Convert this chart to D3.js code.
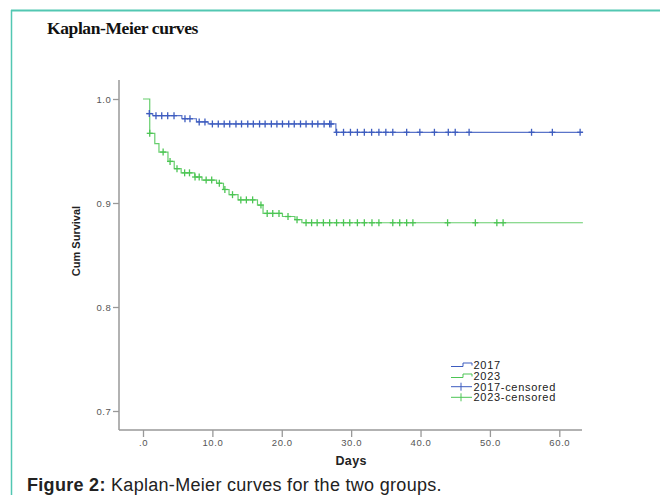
<!DOCTYPE html>
<html><head><meta charset="utf-8">
<script src="https://cdn.jsdelivr.net/npm/d3@7"></script>
<style>body{margin:0;background:#fff}svg{display:block}</style>
</head><body>
<svg id="c" width="660" height="495"></svg>
<script>
// ---- data ----
const seriesNames = ["2017", "2023"];
const legendLabels = ["2017", "2023", "2017-censored", "2023-censored"];
// step points (day, cumulative survival)
const days2017 = [0.5, 1.4, 5.6, 7.7, 9.4, 27.8, 63.4];
const surv2017 = [0.986, 0.984, 0.981, 0.978, 0.976, 0.968, 0.968];
const days2023 = [0, 0.97, 1.7, 2.3, 3.6, 4.5, 5.5, 7.45, 8.5, 10.6, 11.6, 12.4, 13.7, 16.5, 17.3, 20.1, 21.9, 22.9, 63.4];
const surv2023 = [1.0, 0.967, 0.957, 0.949, 0.940, 0.933, 0.929, 0.925, 0.922, 0.919, 0.913, 0.908, 0.903, 0.898, 0.890, 0.887, 0.884, 0.881, 0.881];
// censored times
const cens2017 = [0.91, 1.87, 2.7, 3.56, 4.47, 6.05, 6.77, 8.1, 8.93,
  10.0, 10.85, 11.7, 12.5, 13.4, 14.2, 15.1, 15.9, 16.8, 17.6, 18.5, 19.3, 20.1, 21.0, 21.8, 22.7, 23.5, 24.4, 25.2, 26.1, 26.9, 27.1,
  27.9, 28.9, 29.9, 30.9, 31.9, 32.95, 34.0, 35.0, 36.0, 38.0, 39.9, 42.0, 44.0, 45.0, 47.0, 56.0, 59.0, 63.0];
const cens2023 = [0.97, 2.9, 3.9, 4.9, 6.0, 6.7, 7.5, 8.1, 9.1, 9.9, 11.0, 11.8, 12.9, 14.1, 14.9, 15.8, 17.0, 17.9, 18.7, 19.6, 20.9, 22.2,
  23.5, 24.3, 25.1, 26.0, 26.9, 27.9, 28.9, 29.8, 30.9, 31.9, 33.0, 34.0, 36.0, 37.0, 38.0, 38.9, 43.9, 47.9, 51.0, 51.9];
const xTicks = [0, 10, 20, 30, 40, 50, 60];
const xTickLabels = [".0", "10.0", "20.0", "30.0", "40.0", "50.0", "60.0"];
const yTicks = [0.7, 0.8, 0.9, 1.0];
const yTickLabels = ["0.7", "0.8", "0.9", "1.0"];
const colors = {"2017": "#3d5cbf", "2023": "#4cc554"};

// ---- chart ----
const svg = d3.select("#c");
const x = d3.scaleLinear().domain([0, 60]).range([143, 559.3]);
const y = d3.scaleLinear().domain([0.7, 1.0]).range([411, 99]);
const xMin = x.invert(119), xMax = x.invert(582);
const yMin = y.invert(430), yMax = y.invert(80);

// frame
svg.append("line").attr("x1", 11).attr("x2", 660).attr("y1", 10.5).attr("y2", 10.5).attr("stroke", "#52c7b2").attr("stroke-width", 2);
svg.append("line").attr("x1", 11.5).attr("x2", 11.5).attr("y1", 10).attr("y2", 495).attr("stroke", "#52c7b2").attr("stroke-width", 1.5);

svg.append("text").attr("x", 47).attr("y", 34).attr("font-family", "Liberation Serif").attr("font-weight", "bold")
  .attr("font-size", 17.5).attr("fill", "#111").attr("letter-spacing", -0.4).text("Kaplan-Meier curves");

const axisColor = "#999";
// axes
const gx = svg.append("g").attr("transform", `translate(0,${y(yMin)})`)
  .call(d3.axisBottom(x).tickValues(xTicks).tickSize(7).tickFormat((d, i) => xTickLabels[i]));
const gy = svg.append("g").attr("transform", `translate(${x(xMin)},0)`)
  .call(d3.axisLeft(y).tickValues(yTicks).tickSize(6).tickFormat((d, i) => yTickLabels[i]));
[gx, gy].forEach(g => {
  g.select(".domain").remove();
  g.selectAll(".tick line").attr("stroke", axisColor).attr("stroke-width", 1.3);
  g.selectAll(".tick text").attr("fill", "#555").attr("font-family", "Liberation Sans").attr("font-size", 9.5).attr("letter-spacing", 0.6);
});
gx.selectAll(".tick text").attr("dy", "0.9em").attr("y", 7.5);
gy.selectAll(".tick text").attr("x", -7.5);
svg.append("line").attr("x1", x(xMin)).attr("x2", x(xMax)).attr("y1", y(yMin)).attr("y2", y(yMin)).attr("stroke", axisColor).attr("stroke-width", 1.5);
svg.append("line").attr("x1", x(xMin)).attr("x2", x(xMin)).attr("y1", y(yMin)).attr("y2", y(yMax)).attr("stroke", axisColor).attr("stroke-width", 1.5);

svg.append("text").attr("x", (x(0) + x(60)) / 2).attr("y", 465).attr("text-anchor", "middle")
  .attr("font-family", "Liberation Sans").attr("font-weight", "bold").attr("font-size", 12.5).attr("fill", "#222").attr("letter-spacing", 0.4).text("Days");
svg.append("text").attr("transform", `translate(80,241) rotate(-90)`).attr("text-anchor", "middle")
  .attr("font-family", "Liberation Sans Narrow, Liberation Sans").attr("font-weight", "bold").attr("font-size", 11).attr("fill", "#222").text("Cum Survival");

// curves
const line = d3.line().x(d => x(d[0])).y(d => y(d[1])).curve(d3.curveStepAfter);
const stepSurv = (days, surv, t) => { let s = surv[0]; for (let i = 0; i < days.length; i++) if (days[i] <= t) s = surv[i]; return s; };
const series = [
  {name: "2023", days: days2023, surv: surv2023, cens: cens2023},
  {name: "2017", days: days2017, surv: surv2017, cens: cens2017}
];
series.forEach(sr => {
  const pts = sr.days.map((d, i) => [d, sr.surv[i]]);
  svg.append("path").attr("d", line(pts)).attr("fill", "none").attr("stroke", colors[sr.name]).attr("stroke-width", 1.2).attr("opacity", 0.85);
  const g = svg.append("g").attr("stroke", colors[sr.name]).attr("stroke-width", 1.3);
  sr.cens.forEach(t => {
    const cx = x(t), cy = y(stepSurv(sr.days, sr.surv, t));
    g.append("line").attr("x1", cx).attr("x2", cx).attr("y1", cy - 3.5).attr("y2", cy + 3.5);
    g.append("line").attr("x1", cx - 3).attr("x2", cx + 3).attr("y1", cy).attr("y2", cy);
  });
});

// legend
const legY = [365, 376, 386.7, 397.3];
legendLabels.forEach((lab, i) => {
  const c = colors[lab.slice(0, 4)];
  const yy = legY[i];
  if (i < 2) {
    svg.append("path").attr("d", `M451,${yy + 1.5}H463V${yy - 2}H472V${yy + 0.5}`).attr("fill", "none").attr("stroke", c).attr("stroke-width", 1);
  } else {
    svg.append("line").attr("x1", 451).attr("x2", 472).attr("y1", yy).attr("y2", yy).attr("stroke", c).attr("stroke-width", 1);
    svg.append("line").attr("x1", 461).attr("x2", 461).attr("y1", yy - 4).attr("y2", yy + 4).attr("stroke", c).attr("stroke-width", 1);
  }
  svg.append("text").attr("x", 473.5).attr("y", yy + 4).attr("font-family", "Liberation Sans").attr("font-size", 11)
    .attr("fill", "#222").attr("letter-spacing", 0.7).text(lab);
});

// caption
const cap = svg.append("text").attr("x", 27).attr("y", 491).attr("font-family", "Liberation Sans").attr("font-size", 18).attr("letter-spacing", 0.3).attr("fill", "#222");
cap.append("tspan").attr("font-weight", "bold").text("Figure 2:");
cap.append("tspan").text(" Kaplan-Meier curves for the two groups.");
</script>
</body></html>
